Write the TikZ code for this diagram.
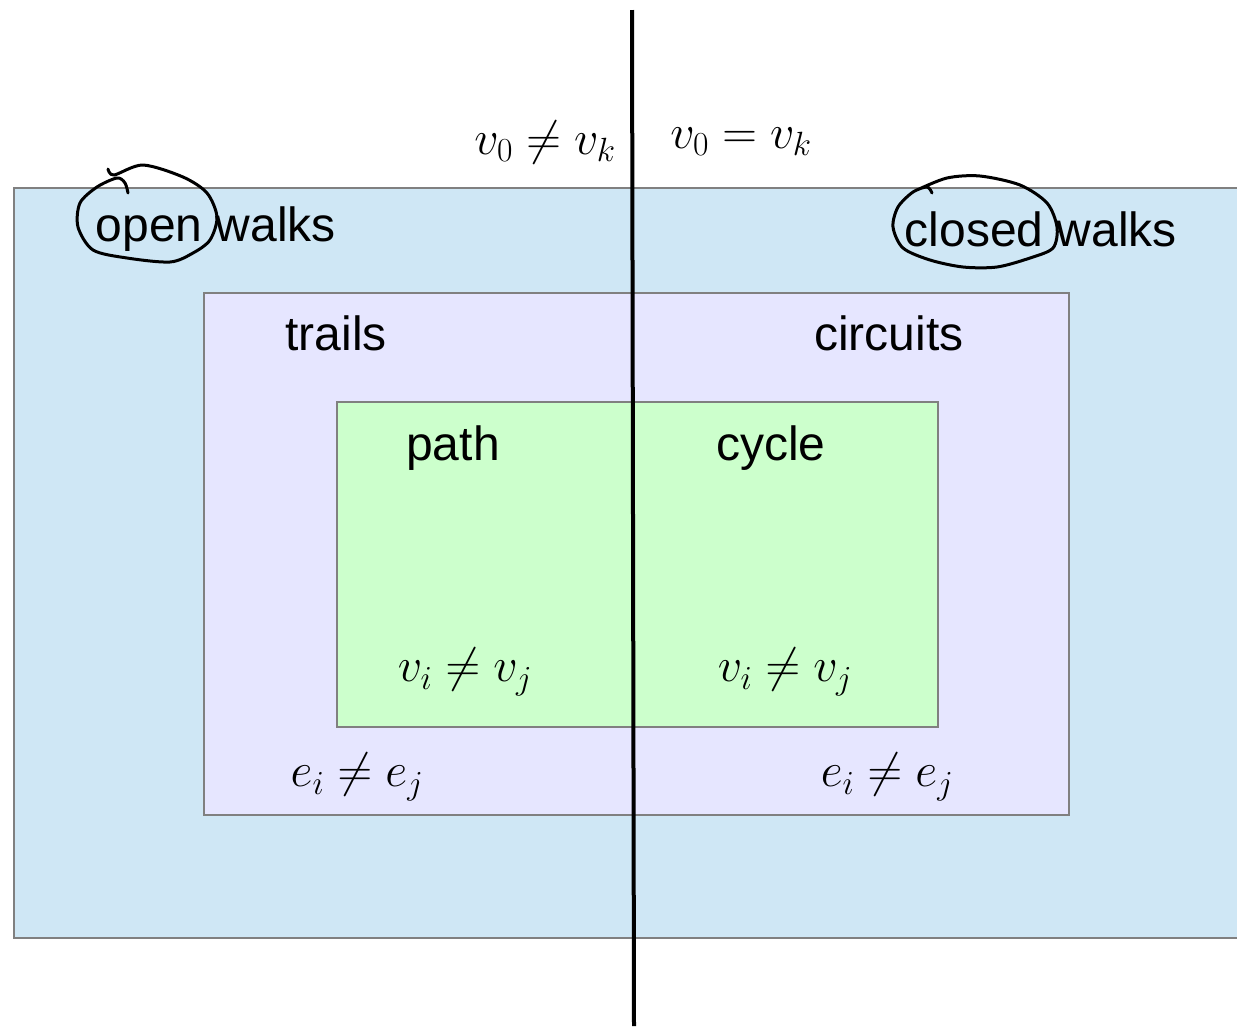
\RequirePackage{fix-cm}
\documentclass[tikz,border=0pt]{standalone}
\usepackage{fontspec}
\setmainfont{Liberation Sans}
\usetikzlibrary{positioning}

\definecolor{walkblue}{RGB}{207,231,245}
\definecolor{trailviolet}{RGB}{230,230,255}
\definecolor{pathgreen}{RGB}{204,255,204}

\begin{document}
\begin{tikzpicture}[x=1pt, y=-1pt,
    region/.style={draw=gray, line width=2pt, anchor=north west, inner sep=0pt},
    lbl/.style={font=\fontsize{48}{52}\selectfont},
    cond/.style={font=\fontsize{48}{52}\selectfont},
    scribble/.style={line width=3pt, line cap=round, line join=round}]
    \useasboundingbox (0,0) rectangle (1237,1026);

    % nested regions
    \node[region, fill=walkblue, minimum width=1240pt, minimum height=750pt] (walks) at (13,187) {};
    \node[region, fill=trailviolet, minimum width=865pt, minimum height=522pt] (trailbox) at (203,292) {};
    \node[region, fill=pathgreen, minimum width=601pt, minimum height=325pt] (pathbox) at (336,401) {};

    % dividing line
    \coordinate (divtop) at (632,10);
    \coordinate (divbot) at (634,1026);
    \draw[line width=4pt] (divtop) -- (divbot);

    % labels
    \node[cond] (neq) at (545,142) {$v_0 \neq v_k$};
    \node[cond] (eq) at (741,142) {$v_0 = v_k$};
    \node[lbl] (open) at (216,229) {open walks};
    \node[lbl] (closed) at (1041,229) {closed walks};
    \node[lbl] (trails) at (336,333) {trails};
    \node[lbl] (circuits) at (889,333) {circuits};
    \node[lbl] (path) at (453,448) {path};
    \node[lbl] (cycle) at (771,448) {cycle};
    \node[cond] (pathv) at (465,672) {$v_i \neq v_j$};
    \node[cond] (cyclev) at (785,672) {$v_i \neq v_j$};
    \node[cond] (traile) at (357,777) {$e_i \neq e_j$};
    \node[cond] (circe) at (887,777) {$e_i \neq e_j$};

    % hand drawn rings
    \draw[scribble] plot[smooth] coordinates {(108,169) (114,175) (143,165) (183,177) (207,193) (217,217)
        (210,240) (193,253) (170,262) (127,258) (93,250) (78,227) (80,203) (97,187) (117,178) (125,183) (128,193)};
    \draw[scribble] plot[smooth] coordinates {(917,190) (947,178) (980,176) (1020,185) (1047,203) (1057,227)
        (1053,248) (1030,258) (997,267) (963,267) (930,260) (903,248) (893,227) (898,207) (913,192) (927,187) (932,193)};
\end{tikzpicture}
\end{document}
